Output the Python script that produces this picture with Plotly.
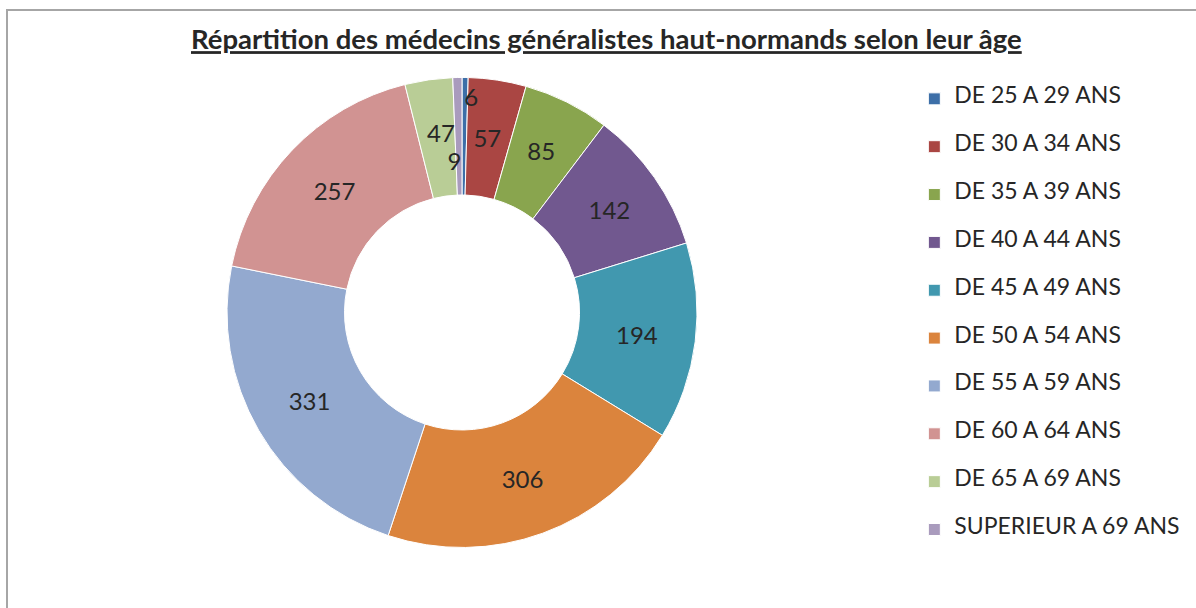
import plotly.graph_objects as go

labels = ["DE 25 A 29 ANS", "DE 30 A 34 ANS", "DE 35 A 39 ANS", "DE 40 A 44 ANS",
          "DE 45 A 49 ANS", "DE 50 A 54 ANS", "DE 55 A 59 ANS", "DE 60 A 64 ANS",
          "DE 65 A 69 ANS", "SUPERIEUR A 69 ANS"]
values = [6, 57, 85, 142, 194, 306, 331, 257, 47, 9]
colors = ["#3D6FA8", "#AA4643", "#89A54E", "#71588F", "#4198AF",
          "#DB843D", "#93A9CF", "#D19392", "#B9CD96", "#A99BBD"]

# styling only: blank lines above / spaces around each data label so thin
# slices show their number nearer the middle of the ring, as in the original
label_lines_above = [1, 2, 1, 0, 0, 0, 0, 0, 2, 5]
label_pad_left = [2, 0, 0, 0, 0, 0, 0, 0, 3, 0]
label_pad_right = [0, 2, 3, 0, 0, 0, 0, 0, 0, 1]

TXT = "#262626"
FONT = "Lato, 'Open Sans', sans-serif"
NB = "&nbsp;"

data_labels = []
for v, n, pl, pr in zip(values, label_lines_above, label_pad_left, label_pad_right):
    data_labels.append((NB + "<br>") * n + NB * pl + str(v) + NB * pr)

# legend entries padded with blank lines to reproduce the generous row spacing
legend_labels = [f"&#8203;<br><span style='font-size:23px'>{l}</span><br>&#8203;" for l in labels]

DOMAIN = dict(x=[0.1898, 0.5828], y=[0.0987, 0.8734])
common = dict(values=values, sort=False, direction="clockwise", rotation=0,
              hole=0.5, domain=DOMAIN)

# coloured ring (with legend)
ring = go.Pie(
    labels=legend_labels,
    textinfo="none",
    hovertemplate="%{value}<extra></extra>",
    marker=dict(colors=colors, line=dict(color="white", width=1)),
    **common,
)

# transparent copy on top carrying the data labels, so no label is hidden
# under a neighbouring slice
label_layer = go.Pie(
    labels=labels,
    text=data_labels,
    textinfo="text",
    textposition="inside",
    insidetextorientation="horizontal",
    textfont=dict(family=FONT, size=24, color=TXT),
    hoverinfo="skip",
    showlegend=False,
    marker=dict(colors=["rgba(0,0,0,0)"] * len(values), line=dict(width=0)),
    **common,
)

fig = go.Figure([ring, label_layer])

fig.update_layout(
    width=1196, height=608,
    margin=dict(l=0, r=0, t=0, b=0),
    paper_bgcolor="white",
    plot_bgcolor="white",
    font=dict(family=FONT, color=TXT),
    title=dict(
        text="<b>Répartition des médecins généralistes haut-normands selon leur âge</b>",
        x=0.507, xanchor="center", y=0.935, yanchor="middle",
        font=dict(family=FONT, size=27.5, color=TXT, lineposition="under"),
    ),
    uniformtext=dict(minsize=24, mode="show"),
    legend=dict(
        x=0.7645, xanchor="left", y=0.885, yanchor="top",
        font=dict(family=FONT, size=11.5, color=TXT),
        bgcolor="rgba(0,0,0,0)",
        traceorder="normal",
    ),
    shapes=[dict(type="rect", xref="paper", yref="paper",
                 x0=7/1196, x1=1.2, y0=-0.2, y1=1-10/608,
                 line=dict(color="#A6A6A6", width=2), fillcolor="rgba(0,0,0,0)", layer="below")],
)

fig.write_html("out.html", config={"displayModeBar": False},
               post_script="document.body.style.margin='0px';")
